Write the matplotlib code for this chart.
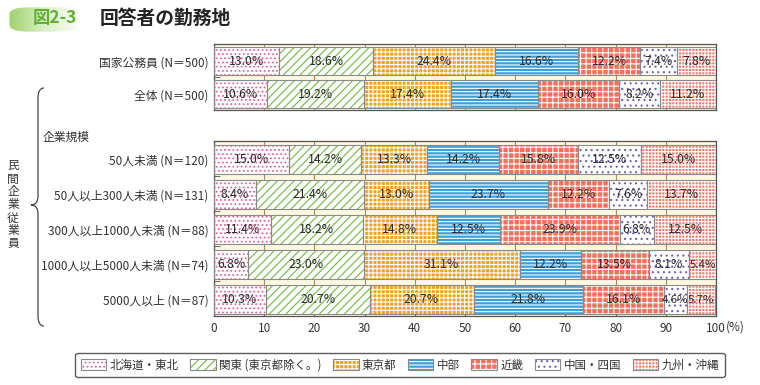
import numpy as np
import matplotlib
matplotlib.use("Agg")
import matplotlib.pyplot as plt
from matplotlib.patches import Patch, FancyBboxPatch, PathPatch
from matplotlib.path import Path

plt.rcParams['font.family'] = ['Noto Sans CJK JP', 'DejaVu Sans']
plt.rcParams['hatch.linewidth'] = 0.8

# data
regions = ["北海道・東北", "関東 (東京都除く。)", "東京都", "中部", "近畿", "中国・四国", "九州・沖縄"]

top_labels = ["国家公務員 (N＝500)", "全体 (N＝500)"]
top_values = [
    [13.0, 18.6, 24.4, 16.6, 12.2, 7.4, 7.8],
    [10.6, 19.2, 17.4, 17.4, 16.0, 8.2, 11.2],
]

size_labels = ["50人未満 (N＝120)", "50人以上300人未満 (N＝131)", "300人以上1000人未満 (N＝88)",
               "1000人以上5000人未満 (N＝74)", "5000人以上 (N＝87)"]
size_values = [
    [15.0, 14.2, 13.3, 14.2, 15.8, 12.5, 15.0],
    [8.4, 21.4, 13.0, 23.7, 12.2, 7.6, 13.7],
    [11.4, 18.2, 14.8, 12.5, 23.9, 6.8, 12.5],
    [6.8, 23.0, 31.1, 12.2, 13.5, 8.1, 5.4],
    [10.3, 20.7, 20.7, 21.8, 16.1, 4.6, 5.7],
]

# (face, hatch, hatch colour)
styles = [
    ("white", "....", "#ec5f9e"),
    ("white", "////", "#6dbb3c"),
    ("#f5a21e", "++++", "white"),
    ("#3d9fd8", "-----", "white"),
    ("#f2705c", "+++", "white"),
    ("white", "...", "#6d62b8"),
    ("#f47e6e", "+++++", "white"),
]

W, H = 760, 385
fig = plt.figure(figsize=(W / 100, H / 100), dpi=100)


def fx(x):
    return x / W


def fy(y):
    return 1 - y / H


def draw_panel(ax, labels, values):
    n = len(labels)
    ax.set_facecolor("#fff8e0")
    for i, row in enumerate(values):
        left = 0
        for j, v in enumerate(row):
            face, hatch, hc = styles[j]
            ax.barh(i + 0.1, v, height=0.84, left=left, align="edge",
                    color=face, hatch=hatch, edgecolor=hc, linewidth=0, zorder=2)
            ax.barh(i + 0.1, v, height=0.84, left=left, align="edge",
                    fill=False, edgecolor="#8a8a8a", linewidth=0.8, zorder=3)
            fs = 8.2 if v < 6 else 8.8
            ax.text(left + v / 2, i + 0.53, f"{v:.1f}%", ha="center", va="center",
                    fontsize=fs, color="#2b2b2b", zorder=4)
            left += v
    ax.set_xlim(0, 100)
    ax.set_ylim(n, 0)
    ax.set_yticks([i + 0.52 for i in range(n)])
    ax.set_yticklabels(labels, fontsize=8.5, color="#333333")
    ax.set_yticks(np.arange(0, n), minor=True)
    ax.tick_params(axis="y", which="major", length=0, pad=4)
    ax.tick_params(axis="y", which="minor", direction="in", length=4, color="#555555")
    ax.set_xticks(np.arange(0, 101, 10))
    ax.grid(axis="x", color="#a88a5c", linewidth=0.8, zorder=1)
    ax.set_axisbelow(True)
    for s in ax.spines.values():
        s.set_color("#555555")
        s.set_linewidth(0.9)


ax1 = fig.add_axes([fx(214), fy(110), fx(716) - fx(214), (110 - 44) / H])
draw_panel(ax1, top_labels, top_values)
ax1.tick_params(axis="x", length=0, labelbottom=False)

ax2 = fig.add_axes([fx(214), fy(316), fx(716) - fx(214), (316 - 141) / H])
draw_panel(ax2, size_labels, size_values)
ax2.tick_params(axis="x", direction="in", length=3, color="#555555", labelsize=8.5,
                labelcolor="#333333", pad=4)
ax2.text(1.02, -0.062, "(%)", transform=ax2.transAxes, fontsize=8.5, color="#333333",
         ha="left", va="center")

# labels on the left
fig.text(fx(43), fy(137), "企業規模", fontsize=8.5, color="#333333", ha="left", va="center")
fig.text(fx(13), fy(205), "\n".join("民間企業従業員"), fontsize=8.5, color="#333333",
         ha="center", va="center", linespacing=1.0)

verts = [(44, 88), (38, 88), (38, 98), (38, 196), (38, 205), (31, 205),
         (38, 205), (38, 214), (38, 316), (38, 326), (44, 326)]
codes = [Path.MOVETO, Path.CURVE3, Path.CURVE3, Path.LINETO, Path.CURVE3, Path.CURVE3,
         Path.CURVE3, Path.CURVE3, Path.LINETO, Path.CURVE3, Path.CURVE3]
brace = Path([(fx(x), fy(y)) for x, y in verts], codes)
fig.patches.append(PathPatch(brace, transform=fig.transFigure, fill=False,
                             edgecolor="#444444", linewidth=0.9))

# title tab
tab = fig.add_axes([fx(8), fy(33), fx(82) - fx(8), 27 / H])
tab.set_axis_off()
grad = np.linspace(0, 1, 200)[None, :]
cmap = matplotlib.colors.LinearSegmentedColormap.from_list("g", ["#9fd16e", "#d9efc3", "#ffffff"])
im = tab.imshow(grad, aspect="auto", cmap=cmap, extent=(0, 1, 0, 1))
clip = FancyBboxPatch((0.02, 0.05), 0.96, 0.9, boxstyle="round,pad=0,rounding_size=0.25",
                      transform=tab.transAxes, facecolor="none", edgecolor="none")
tab.add_patch(clip)
im.set_clip_path(clip)
tab.set_xlim(0, 1)
tab.set_ylim(0, 1)
fig.text(fx(33), fy(18), "図2-3", fontsize=12.5, color="#5fae35", fontweight="bold",
         ha="left", va="center")
fig.text(fx(100), fy(18), "回答者の勤務地", fontsize=13.5, color="#222222", fontweight="bold",
         ha="left", va="center")

# legend
handles = []
for face, hatch, hc in styles:
    h1 = Patch(facecolor=face, hatch=hatch, edgecolor=hc, linewidth=0)
    h2 = Patch(fill=False, edgecolor="#8a8a8a", linewidth=0.8)
    handles.append((h1, h2))
leg = fig.legend(handles, regions, loc="center", bbox_to_anchor=(fx(400), fy(365)), ncol=7,
                 fontsize=8.3, frameon=True, fancybox=True, edgecolor="#333333",
                 handlelength=2.2, handleheight=1.0, handletextpad=0.3, columnspacing=1.0,
                 borderpad=0.5)
leg.get_frame().set_linewidth(1.0)
for t in leg.get_texts():
    t.set_color("#333333")

fig.savefig("out.png", dpi=100)
